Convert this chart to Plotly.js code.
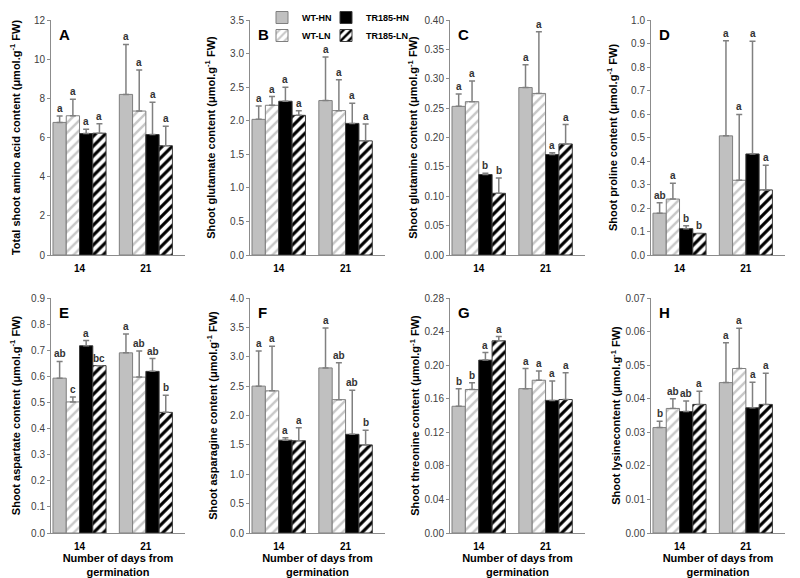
<!DOCTYPE html>
<html>
<head>
<meta charset="utf-8">
<script src="https://cdn.plot.ly/plotly-3.0.1.min.js"></script>
<style>
  body { margin: 0; background: #fff; }
  #chart { width: 800px; height: 578px; }
</style>
</head>
<body>
<div id="chart"></div>
<script>
// x positions of the two sampling days (numeric so letters can sit over each bar)
var days = [0, 1];
var dayLabels = ['14', '21'];
var groups = ['WT-HN', 'WT-LN', 'TR185-HN', 'TR185-LN'];

// each array: one row per group (WT-HN, WT-LN, TR185-HN, TR185-LN), columns = day 14, day 21
var totalMean = [[6.77, 8.20], [7.11, 7.35], [6.20, 6.15], [6.22, 5.58]];
var totalErr  = [[0.33, 2.55], [0.84, 2.10], [0.22, 1.65], [0.48, 1.00]];
var totalSig  = [['a', 'a'], ['a', 'a'], ['a', 'a'], ['a', 'a']];

var gluMean = [[2.02, 2.30], [2.23, 2.15], [2.29, 1.96], [2.08, 1.70]];
var gluErr  = [[0.20, 0.65], [0.13, 0.46], [0.21, 0.30], [0.07, 0.25]];
var gluSig  = [['a', 'a'], ['a', 'a'], ['a', 'a'], ['a', 'a']];

var glnMean = [[0.253, 0.285], [0.261, 0.275], [0.137, 0.171], [0.105, 0.189]];
var glnErr  = [[0.021, 0.039], [0.035, 0.105], [0.002, 0.003], [0.026, 0.033]];
var glnSig  = [['a', 'a'], ['a', 'a'], ['b', 'a'], ['b', 'a']];

var proMean = [[0.178, 0.507], [0.238, 0.318], [0.112, 0.430], [0.092, 0.277]];
var proErr  = [[0.044, 0.405], [0.067, 0.280], [0.013, 0.480], [0.000, 0.105]];
var proSig  = [['ab', 'a'], ['a', 'a'], ['b', 'a'], ['b', 'a']];

var aspMean = [[0.593, 0.690], [0.502, 0.597], [0.717, 0.619], [0.641, 0.462]];
var aspErr  = [[0.064, 0.072], [0.019, 0.100], [0.020, 0.049], [0.000, 0.066]];
var aspSig  = [['ab', 'a'], ['c', 'ab'], ['a', 'ab'], ['bc', 'b']];

var asnMean = [[2.50, 2.81], [2.42, 2.27], [1.58, 1.68], [1.57, 1.50]];
var asnErr  = [[0.60, 0.68], [0.76, 0.63], [0.04, 0.75], [0.22, 0.25]];
var asnSig  = [['a', 'a'], ['a', 'ab'], ['a', 'ab'], ['a', 'b']];

var thrMean = [[0.151, 0.172], [0.171, 0.182], [0.206, 0.158], [0.229, 0.159]];
var thrErr  = [[0.021, 0.024], [0.008, 0.011], [0.009, 0.023], [0.005, 0.032]];
var thrSig  = [['b', 'a'], ['b', 'a'], ['a', 'a'], ['a', 'a']];

var lysMean = [[0.0314, 0.0448], [0.0371, 0.0490], [0.0362, 0.0373], [0.0383, 0.0383]];
var lysErr  = [[0.0019, 0.0119], [0.0029, 0.0120], [0.0031, 0.0076], [0.0039, 0.0093]];
var lysSig  = [['b', 'a'], ['ab', 'a'], ['ab', 'a'], ['a', 'a']];

var unit = ' (μmol.g<sup>-1</sup> FW)';
var panels = [
  {mean: totalMean, err: totalErr, sig: totalSig, tag: 'A', title: 'Total shoot amino acid content' + unit, max: 12, dtick: 2, fmt: 'd', standoff: 11},
  {mean: gluMean, err: gluErr, sig: gluSig, tag: 'B', title: 'Shoot glutamate content' + unit, max: 3.5, dtick: 0.5, fmt: '.1f', standoff: 12},
  {mean: glnMean, err: glnErr, sig: glnSig, tag: 'C', title: 'Shoot glutamine content' + unit, max: 0.4, dtick: 0.05, fmt: '.2f', standoff: 4},
  {mean: proMean, err: proErr, sig: proSig, tag: 'D', title: 'Shoot proline content' + unit, max: 1.0, dtick: 0.1, fmt: '.1f', standoff: 11},
  {mean: aspMean, err: aspErr, sig: aspSig, tag: 'E', title: 'Shoot aspartate content' + unit, max: 0.9, dtick: 0.1, fmt: '.1f', standoff: 8},
  {mean: asnMean, err: asnErr, sig: asnSig, tag: 'F', title: 'Shoot asparagine content' + unit, max: 4.0, dtick: 0.5, fmt: '.1f', standoff: 10},
  {mean: thrMean, err: thrErr, sig: thrSig, tag: 'G', title: 'Shoot threonine content' + unit, max: 0.28, dtick: 0.04, fmt: '.2f', standoff: 2},
  {mean: lysMean, err: lysErr, sig: lysSig, tag: 'H', title: 'Shoot lysinecontent' + unit, max: 0.07, dtick: 0.01, fmt: '.2f', standoff: 2}
];

var W = 800, H = 578;
var colPx = [[51, 185], [250, 385], [450, 585], [651, 785]];
var rowPx = [[20, 255], [298, 533]];

var styles = [
  {color: '#c0c0c0', line: {color: '#7f7f7f', width: 1}},
  {color: '#ffffff', pattern: {shape: '/', fgcolor: '#c8c8c8', bgcolor: '#ffffff', size: 7, solidity: 0.35}, line: {color: '#7f7f7f', width: 1}},
  {color: '#000000', line: {color: '#3a3a3a', width: 1}},
  {color: '#ffffff', pattern: {shape: '/', fgcolor: '#000000', bgcolor: '#ffffff', size: 7, solidity: 0.45}, line: {color: '#3a3a3a', width: 1}}
];
var legendIds = ['legend', 'legend3', 'legend2', 'legend4'];
var offsets = [-0.3, -0.1, 0.1, 0.3];

var font = 'Liberation Sans, Arial, sans-serif';
var data = [];
var annotations = [];
var layout = {
  width: W, height: H,
  margin: {l: 0, r: 0, t: 0, b: 0},
  paper_bgcolor: '#ffffff', plot_bgcolor: '#ffffff',
  font: {family: font, size: 10, color: '#404040'},
  barmode: 'group', bargap: 0.2, bargroupgap: 0,
  hovermode: false,
  showlegend: true
};

panels.forEach(function(p, i) {
  var n = i === 0 ? '' : String(i + 1);
  var col = i % 4, row = Math.floor(i / 4);
  var xd = [colPx[col][0] / W, colPx[col][1] / W];
  var yd = [1 - rowPx[row][1] / H, 1 - rowPx[row][0] / H];

  groups.forEach(function(g, k) {
    data.push({
      type: 'bar', name: g,
      x: days, y: p.mean[k],
      xaxis: 'x' + n, yaxis: 'y' + n,
      offsetgroup: String(k),
      marker: styles[k],
      error_y: {type: 'data', symmetric: false, array: p.err[k], arrayminus: [0, 0],
                color: '#808080', thickness: 1.5, width: 3},
      showlegend: i === 0,
      legend: legendIds[k]
    });
    days.forEach(function(d, j) {
      annotations.push({
        xref: 'x' + n, yref: 'y' + n,
        x: d + offsets[k], y: p.mean[k][j] + p.err[k][j],
        yanchor: 'bottom', yshift: 0, showarrow: false,
        text: p.sig[k][j],
        font: {family: font, size: 10, color: '#333333', weight: 'bold'}
      });
    });
  });

  annotations.push({
    xref: 'paper', yref: 'paper', showarrow: false,
    x: (colPx[col][0] + 6) / W, xanchor: 'left',
    y: 1 - (rowPx[row][0] + 4) / H, yanchor: 'top',
    text: p.tag,
    font: {family: font, size: 15, color: '#000000', weight: 'bold'}
  });

  var xaxis = {
    domain: xd, anchor: 'y' + n,
    range: [-0.43, 1.59], fixedrange: true,
    tickvals: days, ticktext: dayLabels,
    ticks: 'outside', ticklen: 4, tickcolor: 'rgba(0,0,0,0)',
    tickfont: {family: font, size: 10, color: '#000000', weight: 'bold'},
    showline: true, linecolor: '#8c8c8c', linewidth: 1,
    showgrid: false, zeroline: false
  };
  if (row === 1) {
    xaxis.title = {text: 'Number of days from<br>germination', standoff: 4,
                   font: {family: font, size: 11, color: '#000000', weight: 'bold'}};
  }
  layout['xaxis' + n] = xaxis;
  layout['yaxis' + n] = {
    domain: yd, anchor: 'x' + n,
    range: [0, p.max], dtick: p.dtick, tick0: 0, tickformat: p.fmt,
    ticks: 'outside', ticklen: 3, tickcolor: '#8c8c8c',
    tickfont: {family: font, size: 10, color: '#404040'},
    showline: true, linecolor: '#8c8c8c', linewidth: 1,
    showgrid: false, zeroline: false,
    title: {text: p.title, standoff: p.standoff,
            font: {family: font, size: 11, color: '#000000', weight: 'bold'}}
  };
});

// four one-item legends arranged in a 2x2 block above panel B
var legendPos = [[262, 3], [326, 3], [262, 21], [326, 21]];
['legend', 'legend2', 'legend3', 'legend4'].forEach(function(id, k) {
  layout[id] = {
    x: legendPos[k][0] / W, xanchor: 'left',
    y: 1 - legendPos[k][1] / H, yanchor: 'top',
    orientation: 'h', bgcolor: 'rgba(0,0,0,0)',
    font: {family: font, size: 9, color: '#000000', weight: 'bold'},
    itemclick: false, itemdoubleclick: false
  };
});
layout.annotations = annotations;

Plotly.newPlot('chart', data, layout, {displayModeBar: false, staticPlot: true});
</script>
</body>
</html>
